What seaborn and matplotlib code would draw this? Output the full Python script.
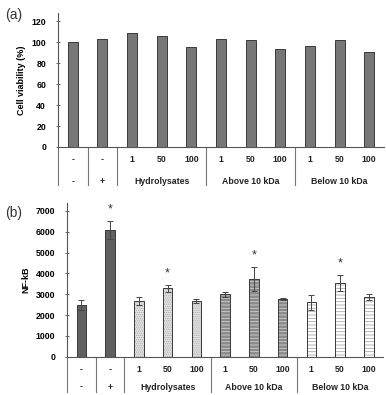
import numpy as np
import pandas as pd
import seaborn as sns
import matplotlib.pyplot as plt
from matplotlib.patches import Rectangle

# data
dose_labels = ["-", "-", "1", "50", "100", "1", "50", "100", "1", "50", "100"]
lps_labels = ["-", "+"]
group_names = ["Hydrolysates", "Above 10 kDa", "Below 10 kDa"]
group_of_bar = ["ctrl", "ctrl", "hyd", "hyd", "hyd", "above", "above", "above", "below", "below", "below"]
viability = [100, 103, 109, 106, 95.2, 103.5, 102, 93.7, 96.5, 102, 90.5]
nfkb = [2480, 6090, 2680, 3290, 2680, 2990, 3735, 2790, 2615, 3545, 2855]
nfkb_err = [240, 450, 190, 160, 90, 130, 590, 50, 350, 395, 145]
nfkb_star = [False, True, False, True, False, False, True, False, False, True, False]

bar_ids = [f"b{i}" for i in range(len(dose_labels))]
df = pd.DataFrame({"bar": bar_ids, "group": group_of_bar,
                   "viability": viability, "nfkb": nfkb, "err": nfkb_err})

plt.rcParams["font.family"] = ["Liberation Sans", "DejaVu Sans"]
plt.rcParams["hatch.linewidth"] = 0.6

fig = plt.figure(figsize=(3.86, 3.95), dpi=100)
ax_a = fig.add_axes([0.150, 0.628, 0.845, 0.339])
ax_b = fig.add_axes([0.1736, 0.097, 0.819, 0.390])

tick_fs = 6.3


def style_axis(ax, ylabel):
    for s in ["top", "right"]:
        ax.spines[s].set_visible(False)
    for s in ["left", "bottom"]:
        ax.spines[s].set_color("#555555")
        ax.spines[s].set_linewidth(0.8)
    ax.set_xlim(-0.5, len(bar_ids) - 0.5)
    ax.set_xticks([])
    ax.set_xlabel("")
    ax.set_ylabel(ylabel, fontsize=6.5, fontweight="bold", labelpad=4)
    ax.tick_params(axis="y", direction="inout", length=3, width=0.6,
                   color="#555555", labelsize=tick_fs, pad=7)
    for lab in ax.get_yticklabels():
        lab.set_fontweight("bold")


def draw_table(ax, line_bottom, row1_y, row2_y):
    tr = ax.get_xaxis_transform()
    for xb in [-0.5, 0.5, 1.5, 4.5, 7.5]:
        ax.plot([xb, xb], [0, line_bottom], transform=tr, color="#777777",
                lw=0.8, clip_on=False)
    for i, t in enumerate(dose_labels):
        ax.text(i, row1_y, t, transform=tr, ha="center", va="center",
                fontsize=tick_fs, fontweight="bold", color="#222222")
    for i, t in enumerate(lps_labels):
        ax.text(i, row2_y, t, transform=tr, ha="center", va="center",
                fontsize=tick_fs, fontweight="bold", color="#222222")
    for g, t in enumerate(group_names):
        ax.text(3 + 3 * g, row2_y, t, transform=tr, ha="center", va="center",
                fontsize=tick_fs, fontweight="bold", color="#222222")


# (a) cell viability
sns.barplot(data=df, x="bar", y="viability", order=bar_ids, ax=ax_a,
            color="#777777", edgecolor="#3a3a3a", linewidth=0.7,
            width=0.34, saturation=1, errorbar=None)
ax_a.set_ylim(0, 128)
ax_a.set_yticks(range(0, 121, 20))
style_axis(ax_a, "Cell viability (%)")
draw_table(ax_a, -0.284, -0.097, -0.26)

# (b) NF-kB
fills = {"ctrl": ("#606060", None, None),
         "hyd": ("#e4e4e4", "........", "#a8a8a8"),
         "above": ("#8a8a8a", "-----", "#cfcfcf"),
         "below": ("#ffffff", "-----", "#a8a8a8")}
sns.barplot(data=df, x="bar", y="nfkb", order=bar_ids, ax=ax_b,
            color="#606060", edgecolor="#3a3a3a", linewidth=0.7,
            width=0.33, saturation=1, errorbar=None)
for p, g in zip(ax_b.patches, group_of_bar):
    fc, hatch, hc = fills[g]
    p.set_facecolor(fc)
    if hatch:
        p.set_hatch(hatch)
        p.set_edgecolor(hc)
        ax_b.add_patch(Rectangle(p.get_xy(), p.get_width(), p.get_height(),
                                 fill=False, ec="#3a3a3a", lw=0.7))

xs = ax_b.get_xticks()
ax_b.errorbar(xs, df["nfkb"], yerr=df["err"], fmt="none", ecolor="#444444",
              elinewidth=0.7, capsize=2, capthick=0.7)
for x, m, e, s in zip(xs, nfkb, nfkb_err, nfkb_star):
    if s:
        ax_b.text(x, m + e + 250, "*", ha="center", va="bottom",
                  fontsize=9, color="#333333")
ax_b.set_ylim(0, 7400)
ax_b.set_yticks(range(0, 7001, 1000))
style_axis(ax_b, "NF-kB")
draw_table(ax_b, -0.229, -0.086, -0.197)

fig.text(0.013, 0.962, "(a)", fontsize=10, color="#333333", va="center")
fig.text(0.013, 0.46, "(b)", fontsize=10, color="#333333", va="center")

fig.savefig("out.png", dpi=100)
